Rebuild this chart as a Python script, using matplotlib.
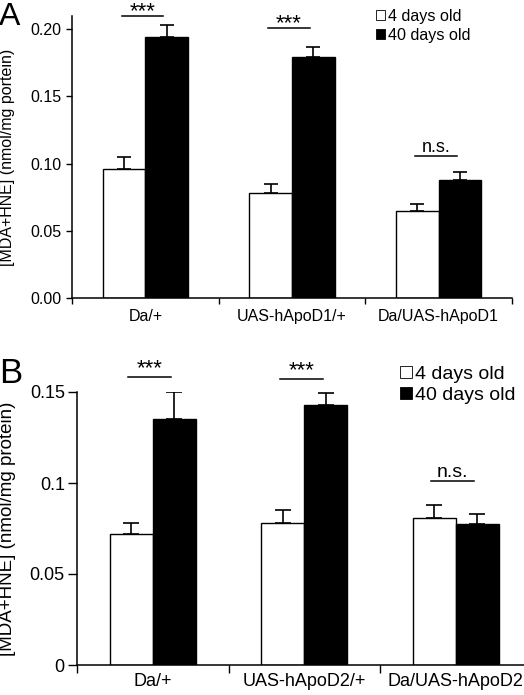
import matplotlib
matplotlib.use('Agg')
import matplotlib.pyplot as plt
from matplotlib.patches import Patch
import numpy as np

plt.rcParams['font.family'] = ['Liberation Sans', 'DejaVu Sans']

# ---------------- data ----------------
series_labels = ['4 days old', '40 days old']

categories_a = ['Da/+', 'UAS-hApoD1/+', 'Da/UAS-hApoD1']
young_a = [0.096, 0.078, 0.065]
young_err_a = [0.009, 0.007, 0.005]
old_a = [0.194, 0.179, 0.088]
old_err_a = [0.009, 0.008, 0.006]
sig_a = ['***', '***', 'n.s.']
sig_y_a = [0.2097, 0.2006, 0.106]

categories_b = ['Da/+', 'UAS-hApoD2/+', 'Da/UAS-hApoD2']
young_b = [0.072, 0.078, 0.081]
young_err_b = [0.006, 0.007, 0.007]
old_b = [0.135, 0.143, 0.0775]
old_err_b = [0.015, 0.0066, 0.0055]
sig_b = ['***', '***', 'n.s.']
sig_y_b = [0.1585, 0.1574, 0.101]

W, H = 524, 695
fig = plt.figure(figsize=(W / 100, H / 100), dpi=100)


def draw_panel(ax, cats, young, yerr, old, oerr, sig, sig_y, ylim, yticks,
               yticklabels, ylabel, bw, s):
    x = np.arange(len(cats))
    n = len(cats)
    ax.bar(x - bw / 2, young, bw, color='white', edgecolor='black', lw=1.0,
           label=series_labels[0], zorder=2)
    ax.bar(x + bw / 2, old, bw, color='black', edgecolor='black', lw=1.0,
           label=series_labels[1], zorder=2)
    ax.errorbar(x - bw / 2, young, yerr=[[0] * n, yerr], fmt='none',
                ecolor='black', elinewidth=1.2, capsize=s['cap'], capthick=1.2,
                zorder=1)
    ax.errorbar(x + bw / 2, old, yerr=[[0] * n, oerr], fmt='none',
                ecolor='black', elinewidth=1.2, capsize=s['cap'], capthick=1.2,
                zorder=1)
    for i in range(n):
        c = x[i] - 0.02
        ax.plot([c - 0.142, c + 0.142], [sig_y[i], sig_y[i]], color='black',
                lw=1.1, clip_on=False)
        fs = s['star'] if sig[i] == '***' else s['ns']
        off = s['staroff'] if sig[i] == '***' else s['nsoff']
        ax.text(c, sig_y[i] + off, sig[i], ha='center', va='bottom',
                fontsize=fs, clip_on=False)
    ax.set_xlim(-0.5, n - 0.5)
    ax.set_ylim(*ylim)
    ax.set_yticks(yticks)
    ax.set_yticklabels(yticklabels, fontsize=s['ytick'])
    ax.set_xticks(x)
    ax.set_xticklabels(cats, fontsize=s['xtick'])
    ax.set_xticks(np.arange(-0.5, n, 1.0), minor=True)
    ax.tick_params(axis='x', which='major', length=0, pad=s['xpad'])
    ax.tick_params(axis='x', which='minor', length=s['xtl'], width=1.0,
                   direction='out')
    ax.tick_params(axis='y', length=s['ytl'], width=1.0, direction='out',
                   pad=s['ypad'])
    for sp in ['top', 'right']:
        ax.spines[sp].set_visible(False)
    for sp in ['left', 'bottom']:
        ax.spines[sp].set_linewidth(1.1)
    ax.set_ylabel(ylabel, fontsize=s['ylab'])
    ax.yaxis.set_label_coords(s['ylabx'], 0.5)
    handles = [Patch(facecolor='white', edgecolor='black', lw=0.6),
               Patch(facecolor='black', edgecolor='black', lw=0.6)]
    ax.legend(handles, series_labels, loc='upper left',
              bbox_to_anchor=s['legpos'], frameon=False, fontsize=s['leg'],
              handlelength=s['hl'], handleheight=s['hl'], handletextpad=0.15,
              labelspacing=s['ls'], borderpad=0, borderaxespad=0)


# Panel A
axA = fig.add_axes([72 / W, (H - 298.3) / H, 440 / W, 282.6 / H])
draw_panel(axA, categories_a, young_a, young_err_a, old_a, old_err_a, sig_a,
           sig_y_a, (0, 0.21), [0, 0.05, 0.10, 0.15, 0.20],
           ['0.00', '0.05', '0.10', '0.15', '0.20'],
           '[MDA+HNE] (nmol/mg portein)', 0.29,
           dict(cap=5, star=16, ns=13, staroff=-0.0045, nsoff=0.0, ytick=11.5,
                xtick=11.5, xpad=8, xtl=4, ytl=4, ypad=3.5, ylab=11.5,
                ylabx=-0.13, legpos=(0.69, 1.025), leg=11.6, hl=0.6,
                ls=0.25))

# Panel B
axB = fig.add_axes([77.3 / W, (H - 665) / H, 453.9 / W, 273 / H])
draw_panel(axB, categories_b, young_b, young_err_b, old_b, old_err_b, sig_b,
           sig_y_b, (0, 0.15), [0, 0.05, 0.1, 0.15],
           ['0', '0.05', '0.1', '0.15'],
           '[MDA+HNE] (nmol/mg protein)', 0.284,
           dict(cap=5.5, star=16, ns=14, staroff=-0.0015, nsoff=0.0, ytick=13,
                xtick=13, xpad=6, xtl=5.5, ytl=6.5, ypad=2.5, ylab=13.5,
                ylabx=-0.135, legpos=(0.711, 1.095), leg=14, hl=0.6,
                ls=0.2))

fig.text(-0.002, (H - 25) / H, 'A', fontsize=23, ha='left', va='baseline')
fig.text(-0.002, (H - 383) / H, 'B', fontsize=25, ha='left', va='baseline')

fig.savefig('out.png', dpi=100)
